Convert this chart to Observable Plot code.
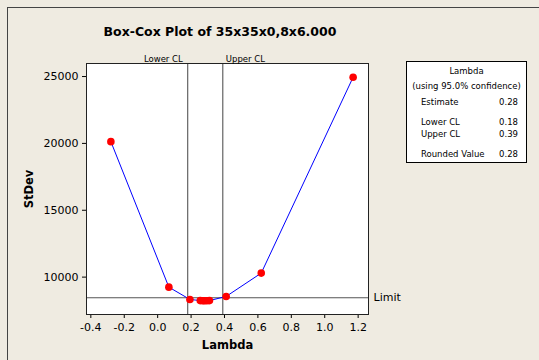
<!DOCTYPE html>
<html><head><meta charset="utf-8">
<script src="https://cdn.jsdelivr.net/npm/d3@7"></script>
<script src="https://cdn.jsdelivr.net/npm/@observablehq/plot@0.6"></script>
<style>
body{margin:0;background:#EFEBE1;}
#wrap{position:relative;width:539px;height:360px;background:#EFEBE1;overflow:hidden;font-family:"DejaVu Sans",sans-serif;color:#000;}
#edge{position:absolute;left:7px;top:7px;width:600px;height:600px;border-left:1px solid #444;border-top:1px solid #444;pointer-events:none;}
#chart{position:absolute;left:0;top:0;}
#title{position:absolute;left:0;width:440px;top:24px;text-align:center;font-weight:bold;font-size:12.5px;}
#legend{position:absolute;left:406px;top:61px;width:119px;height:100px;background:#fff;border:1px solid #000;font-size:8.5px;}
#legend .c{position:absolute;left:0;width:100%;text-align:center;}
#legend .l{position:absolute;left:14px;}
#legend .r{position:absolute;right:8px;}
#chart svg g[aria-label="x-axis label"] text,#chart svg g[aria-label="y-axis label"] text{font-weight:bold;font-size:11.5px;}
</style></head>
<body>
<div id="wrap">
  <div id="chart"></div>
  <div id="title"></div>
  <div id="legend"></div>
  <div id="edge"></div>
</div>
<script>
const titleText = "Box-Cox Plot of 35x35x0,8x6.000";
const lambdas = [-0.28, 0.067, 0.193, 0.255, 0.27, 0.28, 0.295, 0.31, 0.41, 0.62, 1.17];
const stdevs  = [20130, 9250, 8330, 8245, 8232, 8228, 8232, 8245, 8555, 10300, 24950];
const limitValue = 8456;
const clLines = [0.18, 0.39];
const clLabels = ["Lower CL", "Upper CL"];
const xTicks = [-0.4, -0.2, 0.0, 0.2, 0.4, 0.6, 0.8, 1.0, 1.2];
const yTicks = [10000, 15000, 20000, 25000];
const legendTitle = ["Lambda", "(using 95.0% confidence)"];
const legendNames = ["Estimate", "Lower CL", "Upper CL", "Rounded Value"];
const legendValues = ["0.28", "0.18", "0.39", "0.28"];

const data = lambdas.map((l, i) => ({lambda: l, sd: stdevs[i]}));
const clData = clLines.map((x, i) => ({x, label: clLabels[i]}));

document.getElementById("title").textContent = titleText;
const lg = document.getElementById("legend");
const rowsTop = [4, 19, 35, 55, 67, 87];
lg.innerHTML =
  `<div class="c" style="top:${rowsTop[0]}px">${legendTitle[0]}</div>` +
  `<div class="c" style="top:${rowsTop[1]}px">${legendTitle[1]}</div>` +
  legendNames.map((n, i) =>
    `<div class="l" style="top:${rowsTop[i+2]}px">${n}</div><div class="r" style="top:${rowsTop[i+2]}px">${legendValues[i]}</div>`).join("");

const chart = Plot.plot({
  width: 539,
  height: 360,
  marginLeft: 86,
  marginRight: 171,
  marginTop: 63,
  marginBottom: 46,
  style: {background: "transparent", fontFamily: "DejaVu Sans, sans-serif", fontSize: "11px", color: "#000", overflow: "visible"},
  x: {domain: [-0.426, 1.262], ticks: xTicks, tickFormat: d => d.toFixed(1), tickSize: 4, label: "Lambda", labelArrow: "none", labelAnchor: "center", labelOffset: 34},
  y: {domain: [7204, 25975], ticks: yTicks, tickFormat: d => String(d), tickSize: 4, tickPadding: 4, label: "StDev", labelArrow: "none", labelAnchor: "center", labelOffset: 62},
  marks: [
    Plot.frame({fill: "white"}),
    Plot.ruleY([limitValue], {stroke: "#555", strokeWidth: 1}),
    Plot.ruleX(clData, {x: "x", stroke: "#444", strokeWidth: 1}),
    Plot.line(data, {x: "lambda", y: "sd", stroke: "#0000ff", strokeWidth: 1}),
    Plot.dot(data, {x: "lambda", y: "sd", fill: "#ff0000", r: 3.8}),
    Plot.frame({stroke: "#222"}),
    Plot.text([limitValue], {y: d => d, frameAnchor: "right", dx: 5, textAnchor: "start", text: () => "Limit", fontSize: 11}),
    Plot.text(clData, {x: "x", frameAnchor: "top", dy: -8, text: "label", fontSize: 8.5})
  ]
});
// strip any label arrows
chart.querySelectorAll('g[aria-label$="axis label"] text').forEach(t => {
  t.textContent = t.textContent.replace(/\s*[→↑←↓]\s*/g, "");
});
// position CL labels: lower to the left of its line, upper to the right
chart.querySelectorAll('g[aria-label="text"]').forEach(g => {
  const ts = g.querySelectorAll("text");
  if (ts.length === 2) {
    ts[0].setAttribute("text-anchor", "end");
    ts[0].setAttribute("dx", "-5");
    ts[1].setAttribute("text-anchor", "start");
    ts[1].setAttribute("dx", "3");
  }
});
document.getElementById("chart").appendChild(chart);
</script>
</body></html>
